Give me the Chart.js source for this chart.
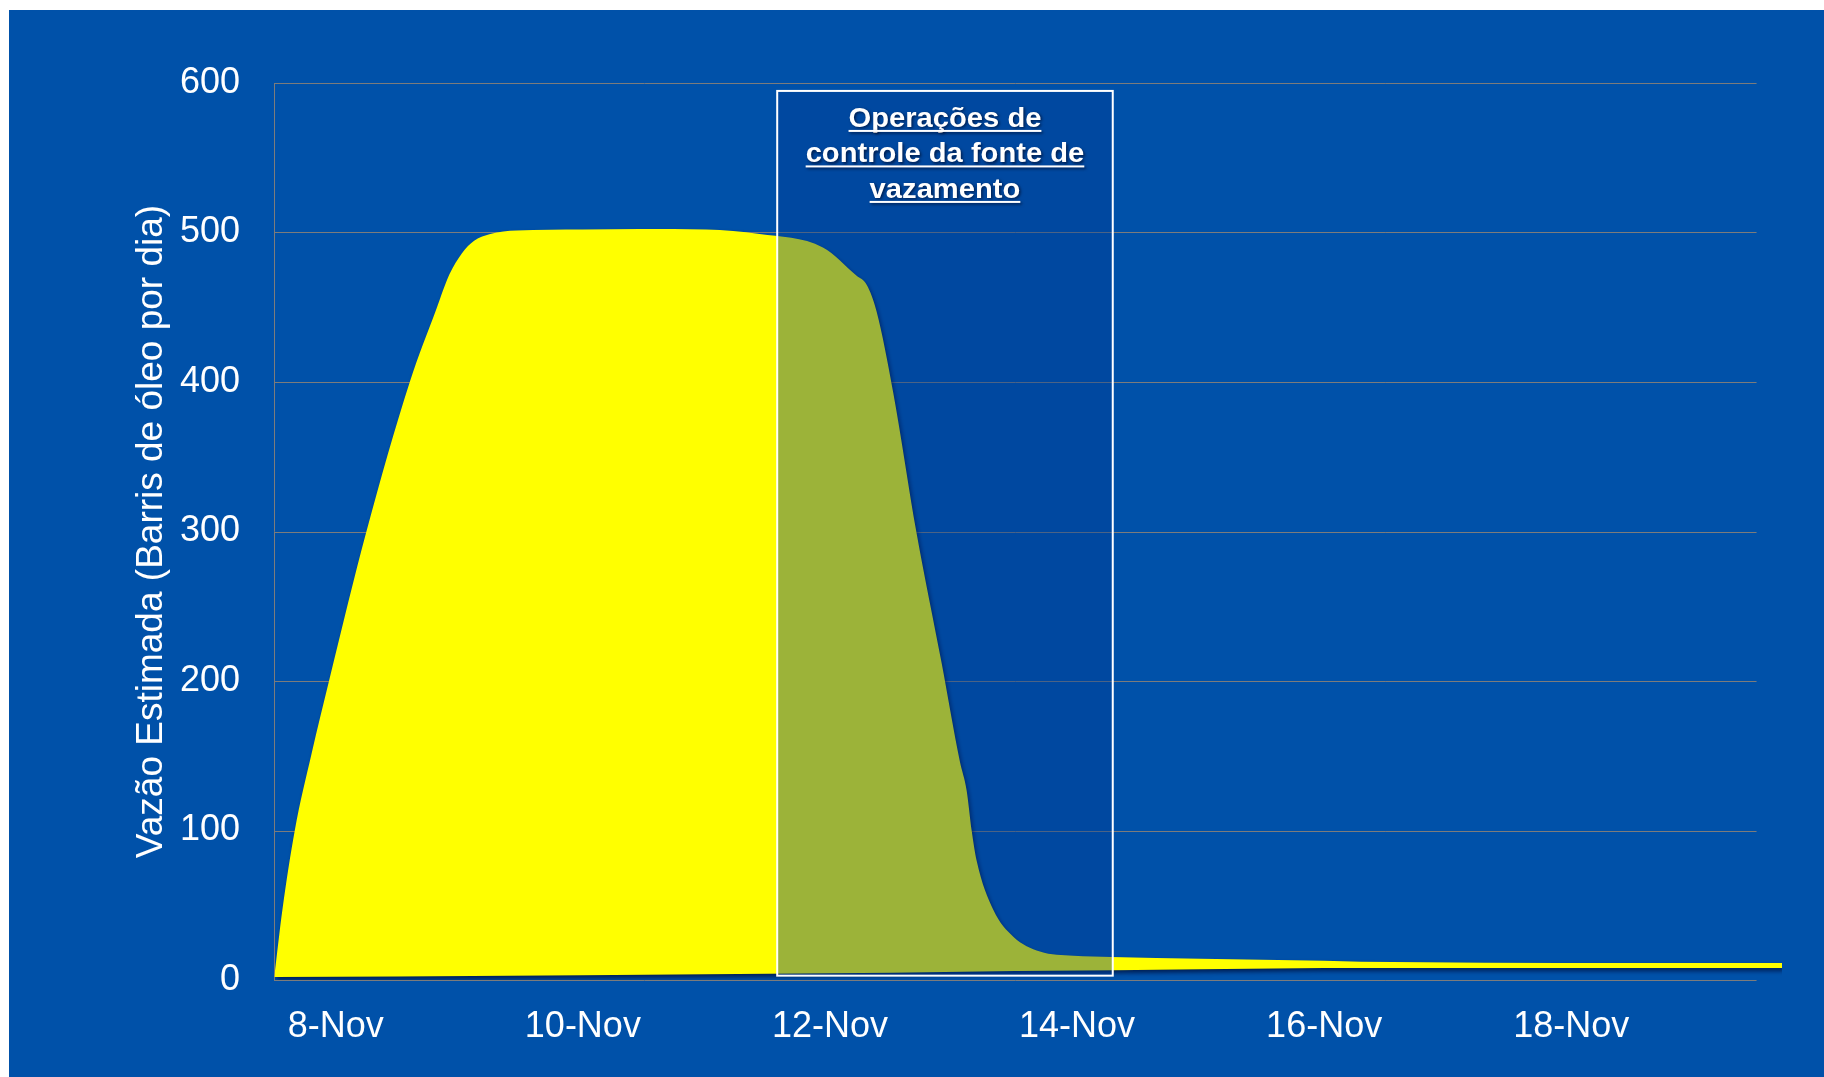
<!DOCTYPE html>
<html>
<head>
<meta charset="utf-8">
<script src="https://cdn.jsdelivr.net/npm/chart.js@4"></script>
<style>
  html, body { margin: 0; padding: 0; background: #ffffff; }
  #panel { position: absolute; left: 9px; top: 10px; width: 1815px; height: 1067px; background: #0051a9; }
  canvas { display: block; }
</style>
</head>
<body>
<div id="panel"><canvas id="chart" width="1815" height="1067"></canvas></div>
<script>
// Estimated oil flow (barrels per day); x is the day of November (fractional)
const flowDays = [7.503, 7.568, 7.668, 7.803, 7.951, 8.248, 8.599, 8.815, 8.92, 9.02, 9.12, 9.25,
                  9.463, 10.0, 10.461, 11.001, 11.43, 11.943, 12.216, 12.297, 12.378, 12.512, 12.701, 12.904,
                  13.052, 13.106, 13.147, 13.187, 13.322, 13.484, 13.70, 13.97, 14.28, 15.0, 16.0, 16.3, 17.3, 18.5, 19.706];
const flowValues = [2.4, 47, 100, 151, 202, 300, 400, 449, 472, 486, 494.5, 499,
                    501.3, 502, 502.4, 502, 499, 490, 471, 465, 447, 393, 299, 212,
                    146, 127, 100, 80, 47, 29, 19.1, 16.2, 15.4, 14.2, 12.8, 12.2, 11.6, 11.4, 11.4];

// Lower edge of the band
const baseDays = [7.5, 8.5, 10.0, 11.5, 12.5, 13.5, 14.3, 15.0, 16.0, 17.5, 19.706];
const baseValues = [2.0, 2.4, 3.2, 4.2, 4.8, 6.0, 6.6, 7.2, 8.0, 8.0, 8.0];

const tickDays = [8, 10, 12, 14, 16, 18];
const tickLabels = ['8-Nov', '10-Nov', '12-Nov', '14-Nov', '16-Nov', '18-Nov'];

const yTitle = 'Vazão Estimada (Barris de óleo por dia)';
const boxLines = ['Operações de', 'controle da fonte de', 'vazamento'];

// Extent of the highlighted period, in axis units
const boxSpan = { from: 11.573, to: 14.289, low: 2.9, high: 594.7 };
const gridEndDay = 19.5;

const FONT = '"Liberation Sans", Arial, Helvetica, sans-serif';

const framePlugin = {
  id: 'frame',
  beforeDatasetsDraw(chart) {
    const { ctx, chartArea: a, scales: { x, y } } = chart;
    const xEnd = x.getPixelForValue(gridEndDay);
    ctx.save();
    ctx.strokeStyle = '#7c7c7c';
    ctx.lineWidth = 1;
    ctx.beginPath();
    y.ticks.forEach(t => {
      const py = Math.round(y.getPixelForValue(t.value)) + 0.5;
      ctx.moveTo(a.left, py);
      ctx.lineTo(xEnd, py);
    });
    const lx = Math.round(a.left) + 0.5;
    ctx.moveTo(lx, a.top);
    ctx.lineTo(lx, a.bottom);
    ctx.stroke();
    ctx.restore();
    // soft drop shadow beneath the filled band
    ctx.save();
    ctx.shadowColor = 'rgba(0, 10, 50, 0.7)';
    ctx.shadowBlur = 4;
    ctx.shadowOffsetX = 2;
    ctx.shadowOffsetY = 3;
  },
  afterDatasetsDraw(chart) {
    const { ctx, scales: { x, y } } = chart;
    ctx.restore();
    const l = x.getPixelForValue(boxSpan.from);
    const r = x.getPixelForValue(boxSpan.to);
    const t = y.getPixelForValue(boxSpan.high);
    const b = y.getPixelForValue(boxSpan.low);
    ctx.save();
    ctx.fillStyle = 'rgba(0, 58, 148, 0.39)';
    ctx.fillRect(l, t, r - l, b - t);
    ctx.strokeStyle = '#ffffff';
    ctx.lineWidth = 2;
    ctx.strokeRect(l, t, r - l, b - t);

    ctx.font = 'bold 27px ' + FONT;
    ctx.textAlign = 'center';
    ctx.textBaseline = 'alphabetic';
    const cx = (l + r) / 2;
    boxLines.forEach((line, i) => {
      const by = t + 36 + i * 35.5;
      ctx.save();
      ctx.translate(cx, by);
      ctx.scale(1.08, 1);
      ctx.shadowColor = 'rgba(0, 0, 20, 0.6)';
      ctx.shadowOffsetX = 1.5;
      ctx.shadowOffsetY = 1.5;
      ctx.shadowBlur = 3;
      ctx.fillStyle = '#ffffff';
      ctx.fillText(line, 0, 0);
      const w = ctx.measureText(line).width;
      ctx.fillRect(-w / 2, 3, w, 2);
      ctx.restore();
    });
    ctx.restore();
  }
};

new Chart(document.getElementById('chart'), {
  type: 'line',
  data: {
    datasets: [
      {
        label: 'base',
        data: baseDays.map((d, i) => ({ x: d, y: baseValues[i] })),
        borderColor: 'rgba(0,0,0,0)',
        borderWidth: 0,
        pointRadius: 0,
        fill: false
      },
      {
        label: 'Vazão',
        data: flowDays.map((d, i) => ({ x: d, y: flowValues[i] })),
        borderColor: 'rgba(0,0,0,0)',
        borderWidth: 0,
        backgroundColor: '#ffff00',
        pointRadius: 0,
        cubicInterpolationMode: 'monotone',
        fill: '-1'
      }
    ]
  },
  options: {
    responsive: false,
    devicePixelRatio: 1,
    animation: false,
    layout: { padding: { top: 73, right: 42, left: 0, bottom: 0 } },
    plugins: { legend: { display: false }, tooltip: { enabled: false } },
    scales: {
      x: {
        type: 'linear',
        min: 7.5,
        max: 19.706,
        grid: { display: false, drawTicks: false },
        border: { display: false },
        afterBuildTicks: s => { s.ticks = tickDays.map(v => ({ value: v })); },
        afterFit: s => { s.height = 97; },
        ticks: {
          autoSkip: false,
          maxRotation: 0,
          padding: 25,
          color: '#ffffff',
          font: { family: FONT, size: 36 },
          callback: v => tickLabels[tickDays.indexOf(v)]
        }
      },
      y: {
        min: 0,
        max: 600,
        grid: { display: false, drawTicks: false },
        border: { display: false },
        afterFit: s => { s.width = 265; },
        ticks: {
          stepSize: 100,
          padding: 34,
          color: '#ffffff',
          font: { family: FONT, size: 36 }
        },
        title: {
          display: true,
          text: yTitle,
          color: '#ffffff',
          padding: { top: 121, bottom: 0 },
          font: { family: FONT, size: 37 }
        }
      }
    }
  },
  plugins: [framePlugin]
});
</script>
</body>
</html>
